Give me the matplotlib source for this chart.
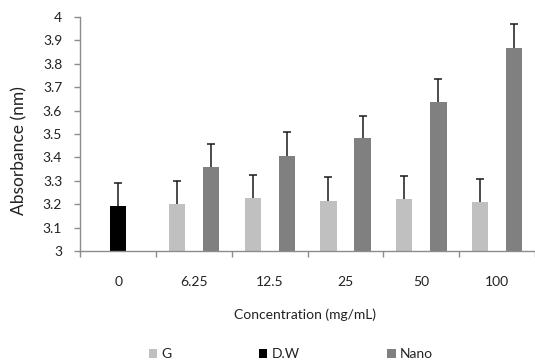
import numpy as np
import matplotlib
matplotlib.use('Agg')
import matplotlib.pyplot as plt

plt.rcParams['font.family'] = ['Lato', 'DejaVu Sans']

categories = ['0', '6.25', '12.5', '25', '50', '100']
# G and Nano measured from 6.25 onwards, D.W only at 0
g_vals = [3.200, 3.225, 3.215, 3.221, 3.209]
g_err = [0.10, 0.10, 0.10, 0.10, 0.10]
nano_vals = [3.357, 3.407, 3.482, 3.638, 3.869]
nano_err = [0.10, 0.10, 0.093, 0.098, 0.10]
dw_vals = [3.192]
dw_err = [0.10]

fig = plt.figure(figsize=(5.35, 3.62), dpi=100)
ax = fig.add_axes([80.3/535, 1-251/362, 454.7/535, 234/362])

w = 0.215
off = 0.225
x_all = np.arange(len(categories))
x_dw = x_all[:1]
x_gn = x_all[1:]

b_g = ax.bar(x_gn - off, np.array(g_vals) - 3, w, bottom=3, color='#c0c0c0', label='G', zorder=2)
b_dw = ax.bar(x_dw, np.array(dw_vals) - 3, w, bottom=3, color='#000000', label='D.W', zorder=2)
b_n = ax.bar(x_gn + off, np.array(nano_vals) - 3, w, bottom=3, color='#808080', label='Nano', zorder=2)

ekw = dict(fmt='none', ecolor='#1a1a1a', elinewidth=1.1, capsize=2.6, capthick=1.1, zorder=3)
for xs, ys, es in [(x_gn - off, g_vals, g_err), (x_dw, dw_vals, dw_err), (x_gn + off, nano_vals, nano_err)]:
    eb = ax.errorbar(xs, ys, yerr=[np.zeros(len(es)), es], **ekw)
    # only the upper cap, like excel "plus" error bars
    eb[1][0].set_visible(False)

ax.set_ylim(3, 4)
ax.set_yticks(np.arange(3, 4.01, 0.1))
ax.set_yticklabels(['3', '3.1', '3.2', '3.3', '3.4', '3.5', '3.6', '3.7', '3.8', '3.9', '4'])
ax.set_xlim(-0.5, -0.5 + 454.7/77.7)

ax.set_xticks(np.arange(-0.5, len(categories), 1.0))
ax.set_xticklabels([])
ax.set_xticks(x_all, minor=True)
ax.set_xticklabels(categories, minor=True)
ax.tick_params(axis='x', which='major', length=4, width=1, color='#8c8c8c', direction='out')
ax.tick_params(axis='x', which='minor', length=0, pad=18, labelsize=10, labelcolor='#222222')
ax.tick_params(axis='y', length=4, width=1, color='#8c8c8c', labelsize=10, labelcolor='#222222', pad=9)

for s in ['top', 'right']:
    ax.spines[s].set_visible(False)
for s in ['left', 'bottom']:
    ax.spines[s].set_color('#8c8c8c')
    ax.spines[s].set_linewidth(1)

fig.text(305/535, 1-315/362, 'Concentration (mg/mL)', ha='center', va='center', fontsize=10, color='#222222')
fig.text(19/535, 1-151/362, 'Absorbance (nm)', ha='center', va='center', rotation=90, fontsize=12.5, color='#222222')

fig.legend(handles=[b_g, b_dw, b_n], loc='center left', bbox_to_anchor=(149/535, 1-354/362),
           ncol=3, frameon=False, fontsize=10, borderpad=0, borderaxespad=0,
           handlelength=0.6, handleheight=0.6, handletextpad=0.3, columnspacing=6.3,
           labelcolor='#222222')

fig.savefig('out.png', dpi=100)
